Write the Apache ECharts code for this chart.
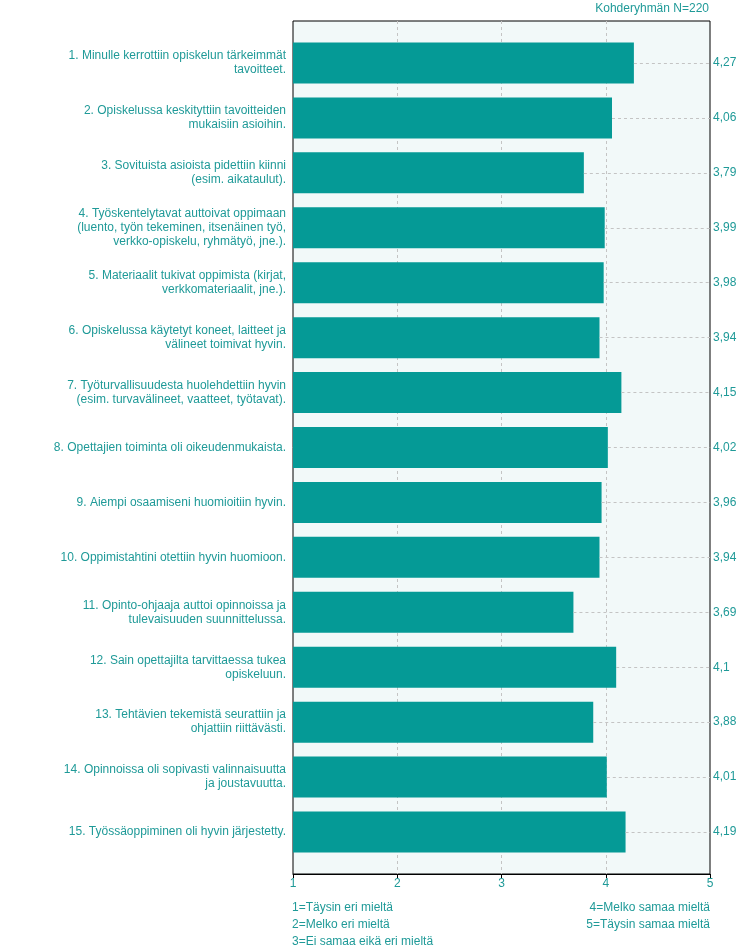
<!DOCTYPE html>
<html><head><meta charset="utf-8">
<script src="https://cdn.jsdelivr.net/npm/echarts@6/dist/echarts.min.js"></script>
<style>html,body{margin:0;padding:0;background:#fff}#c{width:750px;height:951px}</style>
</head><body><div id="c"></div>
<script>
const categories = [
  "1. Minulle kerrottiin opiskelun tärkeimmät\ntavoitteet.",
  "2. Opiskelussa keskityttiin tavoitteiden\nmukaisiin asioihin.",
  "3. Sovituista asioista pidettiin kiinni\n(esim. aikataulut).",
  "4. Työskentelytavat auttoivat oppimaan\n(luento, työn tekeminen, itsenäinen työ,\nverkko-opiskelu, ryhmätyö, jne.).",
  "5. Materiaalit tukivat oppimista (kirjat,\nverkkomateriaalit, jne.).",
  "6. Opiskelussa käytetyt koneet, laitteet ja\nvälineet toimivat hyvin.",
  "7. Työturvallisuudesta huolehdettiin hyvin\n(esim. turvavälineet, vaatteet, työtavat).",
  "8. Opettajien toiminta oli oikeudenmukaista.",
  "9. Aiempi osaamiseni huomioitiin hyvin.",
  "10. Oppimistahtini otettiin hyvin huomioon.",
  "11. Opinto-ohjaaja auttoi opinnoissa ja\ntulevaisuuden suunnittelussa.",
  "12. Sain opettajilta tarvittaessa tukea\nopiskeluun.",
  "13. Tehtävien tekemistä seurattiin ja\nohjattiin riittävästi.",
  "14. Opinnoissa oli sopivasti valinnaisuutta\nja joustavuutta.",
  "15. Työssäoppiminen oli hyvin järjestetty."
];
const values = [4.27, 4.06, 3.79, 3.99, 3.98, 3.94, 4.15, 4.02, 3.96, 3.94, 3.69, 4.1, 3.88, 4.01, 4.19];
const xTicks = [1, 2, 3, 4, 5];
const scaleLeft = ["1=Täysin eri mieltä", "2=Melko eri mieltä", "3=Ei samaa eikä eri mieltä"];
const scaleRight = ["4=Melko samaa mieltä", "5=Täysin samaa mieltä"];
const headerText = "Kohderyhmän N=220";

const TXT = '#1f9a98';
const FONT = '"Liberation Sans", Arial, sans-serif';
const FS = 12;
const valueLabels = values.map(v => String(v).replace('.', ','));

const chart = echarts.init(document.getElementById('c'), null, {renderer: 'canvas'});
const L = 293, R = 40, T = 21, B = 77, PAD = 14.5;

const graphics = [];
graphics.push({type: 'text', right: 41, top: 3, style: {text: headerText, fill: TXT, font: FS + 'px ' + FONT, textAlign: 'right'}});
scaleLeft.forEach((t, i) => graphics.push({type: 'text', left: 292, top: 902 + i * 17, style: {text: t, fill: TXT, font: FS + 'px ' + FONT}}));
scaleRight.forEach((t, i) => graphics.push({type: 'text', right: 40, top: 902 + i * 17, style: {text: t, fill: TXT, font: FS + 'px ' + FONT}}));

chart.setOption({
  animation: false,
  textStyle: {fontFamily: FONT},
  graphic: graphics,
  grid: [
    {left: L, right: R, top: T, bottom: B, show: true, backgroundColor: '#f2f9f9', borderColor: '#000', borderWidth: 1, z: 0},
    {left: L, right: R, top: T + PAD, bottom: B + PAD}
  ],
  xAxis: [
    {gridIndex: 0, type: 'value', min: xTicks[0], max: xTicks[xTicks.length - 1], interval: 1,
     axisLine: {show: true, lineStyle: {color: '#000'}}, axisTick: {show: true, length: 4, lineStyle: {color: '#000'}},
     axisLabel: {color: TXT, fontSize: FS, margin: 4, fontFamily: FONT},
     splitLine: {show: true, showMinLine: false, showMaxLine: false, lineStyle: {type: [3, 3], color: '#c4c4c4'}}},
    {gridIndex: 1, type: 'value', min: xTicks[0], max: xTicks[xTicks.length - 1], show: false}
  ],
  yAxis: [
    {gridIndex: 0, type: 'value', show: false, min: 0, max: 1},
    {gridIndex: 1, type: 'category', data: categories, inverse: true,
     axisLine: {show: false}, axisTick: {show: false},
     axisLabel: {color: TXT, fontSize: FS, lineHeight: 14, margin: 7, fontFamily: FONT, align: 'right'}},
    {gridIndex: 1, type: 'category', data: valueLabels, inverse: true, position: 'right',
     axisLine: {show: false}, axisTick: {show: false},
     axisLabel: {color: TXT, fontSize: FS, margin: 3, fontFamily: FONT}}
  ],
  series: [{
    type: 'bar', xAxisIndex: 1, yAxisIndex: 1, data: values, barWidth: 41, clip: true,
    itemStyle: {color: '#059a96'},
    markLine: {
      silent: true, symbol: 'none', label: {show: false},
      lineStyle: {type: [3, 3], color: '#c4c4c4', width: 1},
      data: values.map((v, i) => [{coord: [v, i]}, {coord: [xTicks[xTicks.length - 1], i]}])
    }
  }]
});
</script></body></html>
